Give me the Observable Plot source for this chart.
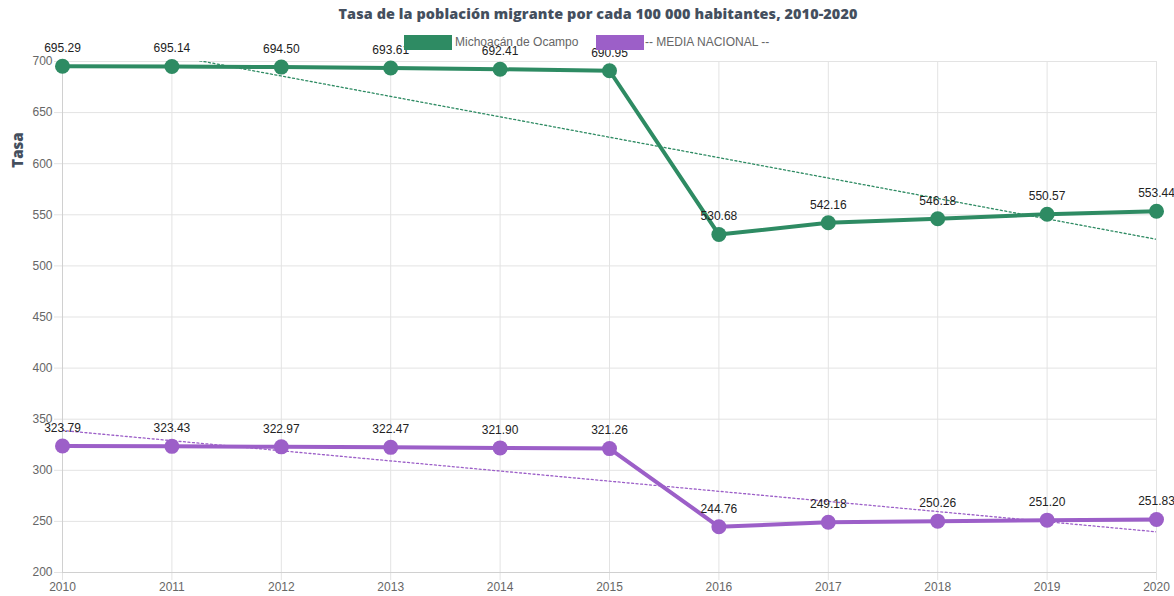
<!DOCTYPE html>
<html>
<head>
<meta charset="utf-8">
<script src="https://cdn.jsdelivr.net/npm/d3@7"></script>
<script src="https://cdn.jsdelivr.net/npm/@observablehq/plot@0.6"></script>
<style>
  body { margin: 0; background: #fff; }
  #wrap { position: relative; width: 1174px; height: 596px; font-family: "Liberation Sans", Arial, sans-serif; }
  #title { position: absolute; top: 4px; left: 0; width: 1196px; text-align: center; font-family: "Open Sans", "Noto Sans", sans-serif; font-weight: 800; font-size: 14.4px; color: #444f5e; letter-spacing: 0.1px; }
  #legend { position: absolute; top: 35px; left: 0; width: 1174px; font-size: 12px; color: #666; }
  .sw { position: absolute; top: 0; height: 15px; width: 48px; }
  .lt { position: absolute; top: 0; line-height: 15px; }
  svg { position: absolute; top: 0; left: 0; }
</style>
</head>
<body>
<div id="wrap">
  <div id="chart"></div>
  <div id="title">Tasa de la población migrante por cada 100 000 habitantes, 2010-2020</div>
  <div id="legend"></div>
</div>
<script>
const years = [2010, 2011, 2012, 2013, 2014, 2015, 2016, 2017, 2018, 2019, 2020];
const michoacan = [695.29, 695.14, 694.50, 693.61, 692.41, 690.95, 530.68, 542.16, 546.18, 550.57, 553.44];
const nacional = [323.79, 323.43, 322.97, 322.47, 321.90, 321.26, 244.76, 249.18, 250.26, 251.20, 251.83];
const seriesNames = ["Michoacán de Ocampo", "-- MEDIA NACIONAL --"];
const colors = ["#2e8b63", "#9c5fc8"];
const yTicks = [200, 250, 300, 350, 400, 450, 500, 550, 600, 650, 700];

const data = [];
[michoacan, nacional].forEach((vals, i) => {
  vals.forEach((v, j) => data.push({ year: years[j], value: v, serie: seriesNames[i] }));
});

const grid = "#e3e3e3";
const chart = Plot.plot({
  width: 1174,
  height: 596,
  marginTop: 61,
  marginBottom: 24,
  marginLeft: 62,
  marginRight: 18,
  style: { fontFamily: "'Liberation Sans', Arial, sans-serif", fontSize: "12px", color: "#666", overflow: "visible" },
  x: { domain: [2010, 2020], ticks: years, tickFormat: d => String(d) },
  y: { domain: [200, 700], ticks: yTicks },
  color: { domain: seriesNames, range: colors },
  marks: [
    Plot.gridX(years, { stroke: grid, strokeOpacity: 1 }),
    Plot.gridY(yTicks, { stroke: grid, strokeOpacity: 1 }),
    Plot.axisX({ ticks: years, tickFormat: d => String(d), tickSize: 8, stroke: grid, tickPadding: 2, fill: "#666", label: null }),
    Plot.axisY({ ticks: yTicks, tickSize: 8, stroke: grid, tickPadding: 2, fill: "#666", label: null }),
    Plot.ruleX([2010], { stroke: "#d0d0d0" }),
    Plot.ruleY([200], { stroke: "#d0d0d0" }),
    Plot.linearRegressionY(data, { x: "year", y: "value", stroke: "serie", ci: 0, strokeWidth: 1.3, strokeDasharray: "2,2.5", clip: true }),
    Plot.line(data, { x: "year", y: "value", stroke: "serie", strokeWidth: 4 }),
    Plot.dot(data, { x: "year", y: "value", fill: "serie", r: 7.5 }),
    Plot.text(data, { x: "year", y: "value", text: d => d.value.toFixed(2), dy: -18, fill: "#222", fontSize: 12 })
  ]
});
document.getElementById("chart").appendChild(chart);

// y axis title
const svg = d3.select(chart);
svg.append("text")
  .attr("transform", "translate(23,150) rotate(-90)")
  .attr("text-anchor", "middle")
  .attr("font-family", "'Open Sans', 'Noto Sans', sans-serif")
  .attr("font-weight", 800)
  .attr("font-size", 15)
  .attr("fill", "#444f5e")
  .text("Tasa");

const legend = document.getElementById("legend");
const pos = [[404, 455], [596, 645]];
seriesNames.forEach((n, i) => {
  const s = document.createElement("div");
  s.className = "sw"; s.style.left = pos[i][0] + "px"; s.style.background = colors[i];
  legend.appendChild(s);
  const t = document.createElement("div");
  t.className = "lt"; t.style.left = pos[i][1] + "px"; t.textContent = n;
  legend.appendChild(t);
});
</script>
</body>
</html>
